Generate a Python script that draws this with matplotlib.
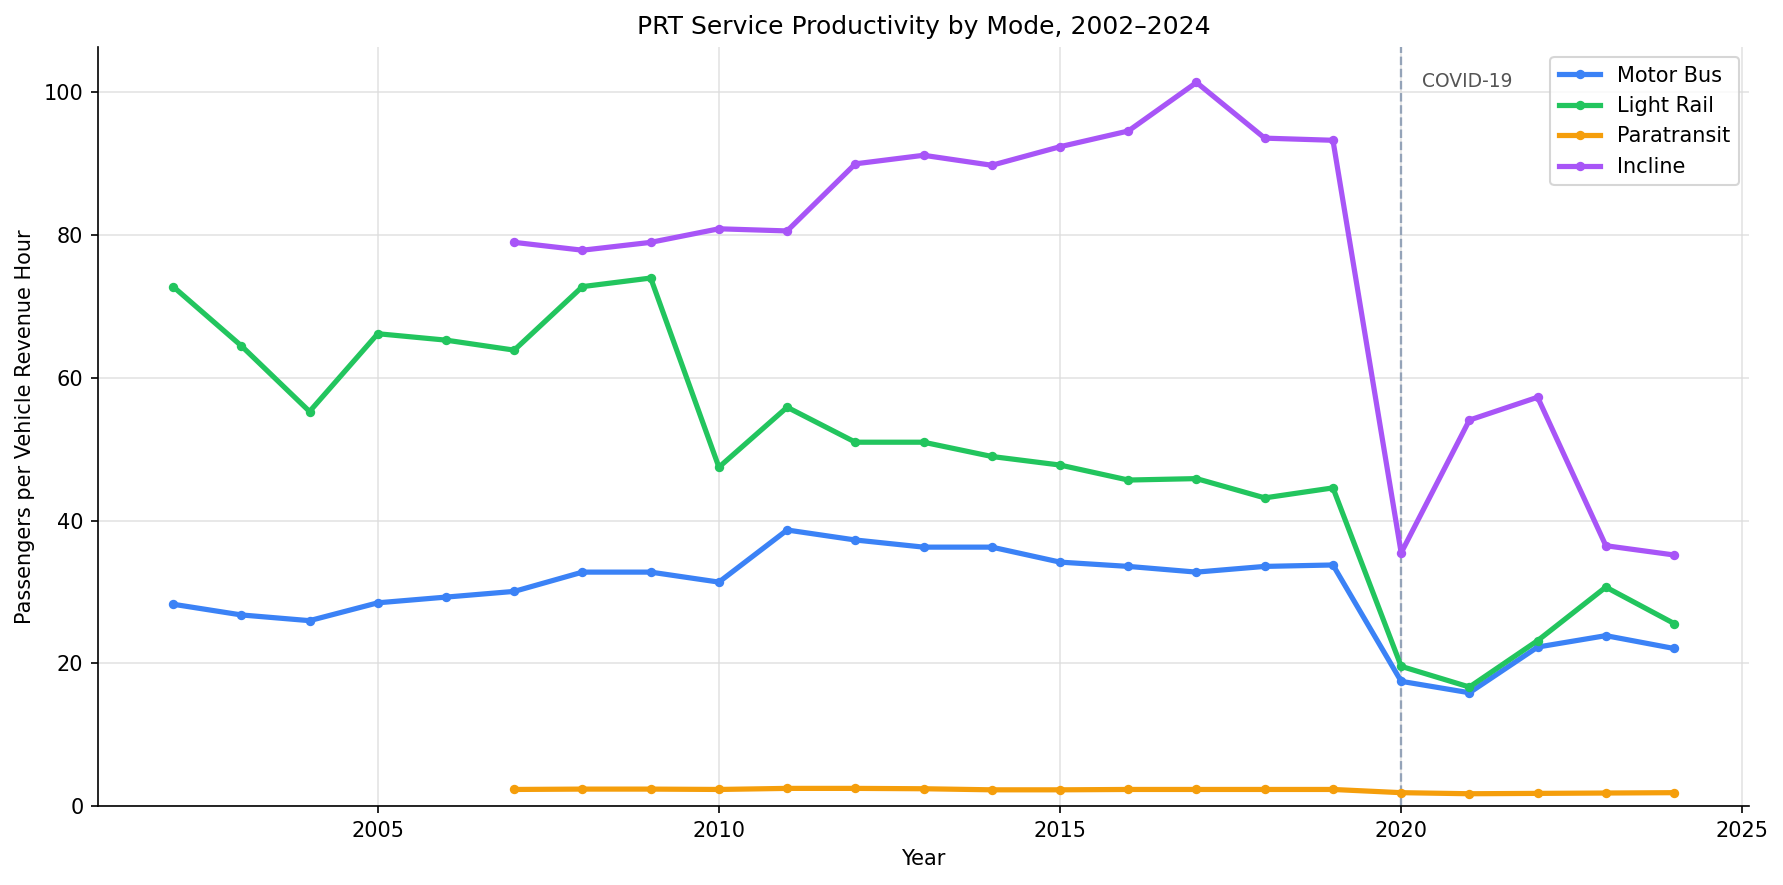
import numpy as np
import matplotlib
matplotlib.use("Agg")
import matplotlib.pyplot as plt

# ─── Dados ────────────────────────────────────────────────────────────────────
years = list(range(2002, 2025))
years_late = list(range(2007, 2025))

motor_bus = [28.3, 26.8, 26.0, 28.5, 29.3, 30.1, 32.8, 32.8, 31.4, 38.7, 37.3, 36.3,
             36.3, 34.2, 33.6, 32.8, 33.6, 33.8, 17.5, 15.9, 22.3, 23.9, 22.1]
light_rail = [72.8, 64.5, 55.3, 66.2, 65.3, 63.9, 72.8, 74.0, 47.5, 55.9, 51.0, 51.0,
              49.0, 47.8, 45.7, 45.9, 43.2, 44.6, 19.6, 16.7, 23.2, 30.7, 25.6]
paratransit = [2.35, 2.4, 2.4, 2.35, 2.5, 2.5, 2.45, 2.3, 2.3, 2.35, 2.35, 2.35,
               2.35, 1.9, 1.75, 1.8, 1.85, 1.9]
incline = [79.0, 77.9, 79.0, 80.9, 80.6, 90.0, 91.2, 89.8, 92.4, 94.6, 101.4, 93.6,
           93.3, 35.5, 54.1, 57.3, 36.5, 35.2]

MODE_COLORS = {
    "Motor Bus":   "#3b82f6",
    "Light Rail":  "#22c55e",
    "Paratransit": "#f59e0b",
    "Incline":     "#a855f7",
}

series = [
    ("Motor Bus", years, motor_bus),
    ("Light Rail", years, light_rail),
    ("Paratransit", years_late, paratransit),
    ("Incline", years_late, incline),
]

# ─── Figura ───────────────────────────────────────────────────────────────────
fig, ax = plt.subplots(figsize=(1783 / 150, 885 / 150), dpi=150)

for name, xs, ys in series:
    ax.plot(xs, ys, color=MODE_COLORS[name], marker="o", markersize=3.5,
            linewidth=2.5, label=name, zorder=3)

ax.axvline(2020, color="#94a3b8", linestyle="--", linewidth=1.1, zorder=2)
ax.text(2020.3, 101.5, "COVID-19", fontsize=9, color="#555555",
        ha="left", va="center")

ax.set_ylim(bottom=0)
ax.set_title("PRT Service Productivity by Mode, 2002\u20132024", fontsize=12)
ax.set_xlabel("Year")
ax.set_ylabel("Passengers per Vehicle Revenue Hour")
ax.grid(True, color="#dddddd", linewidth=0.8, alpha=0.8)
ax.set_axisbelow(True)
ax.spines["top"].set_visible(False)
ax.spines["right"].set_visible(False)
ax.legend(loc="upper right", fontsize=10)

fig.subplots_adjust(left=0.055, right=0.981, top=0.947, bottom=0.089)
plt.savefig("out.png", dpi=150)
plt.close()
